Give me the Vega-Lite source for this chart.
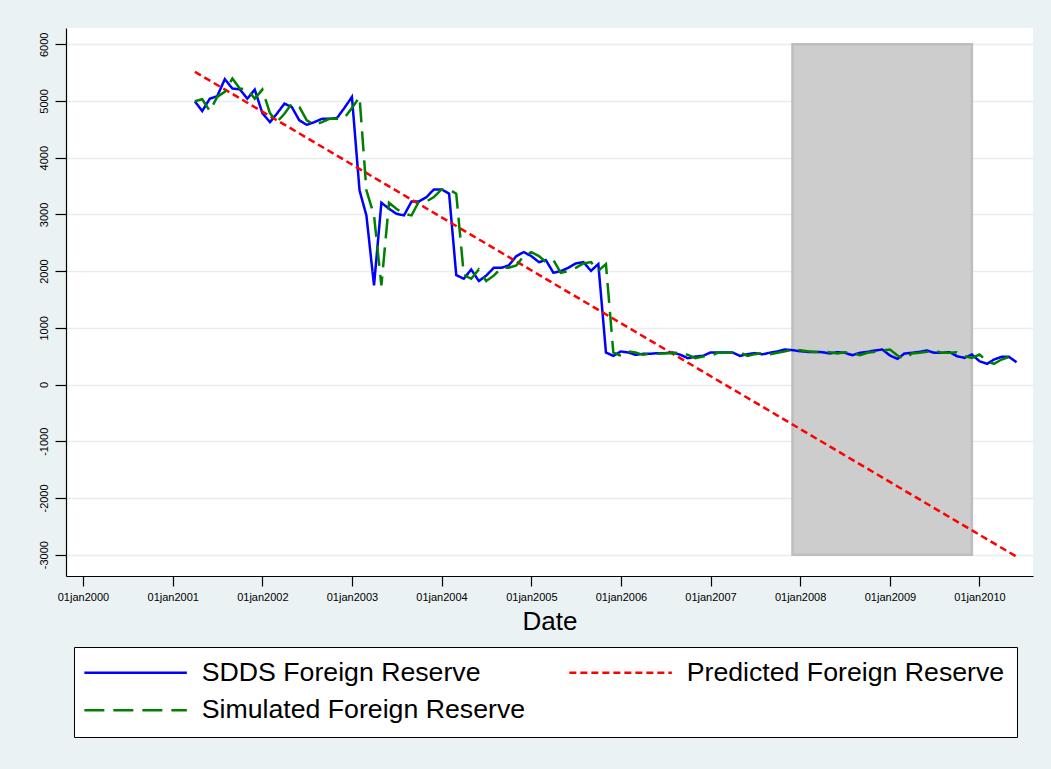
{
  "$schema": "https://vega.github.io/schema/vega-lite/v6.json",
  "width": 967,
  "height": 548,
  "autosize": {"type": "none"},
  "padding": {"left": 66, "top": 28, "right": 18, "bottom": 193},
  "background": "#EAF2F3",
  "config": {
    "view": {"fill": "white", "stroke": null},
    "font": "Liberation Sans",
    "axis": {"labelFont": "Liberation Sans", "titleFont": "Liberation Sans", "labelColor": "black", "titleColor": "black", "tickColor": "black", "domainColor": "black"},
    "legend": {
      "title": null, "orient": "none", "legendX": 8, "legendY": 619, "direction": "horizontal", "columns": 2,
      "symbolType": "M-1.5,0H8.75", "symbolSize": 400, "symbolStrokeWidth": 2.5, "symbolFillColor": "transparent",
      "labelFontSize": 26.7, "labelFont": "Liberation Sans", "labelColor": "black", "labelLimit": 1000, "labelOffset": 89,
      "columnPadding": 38, "rowPadding": 10, "padding": 12, "strokeColor": "black", "fillColor": "white"
    }
  },
  "datasets": {
    "main": [
      {"d": "2001-04-01", "s": 4994, "m": 4994},
      {"d": "2001-05-01", "s": 4822, "m": 5030},
      {"d": "2001-06-01", "s": 5041, "m": 4822},
      {"d": "2001-07-01", "s": 5083, "m": 5071},
      {"d": "2001-08-01", "s": 5385, "m": 5160},
      {"d": "2001-09-01", "s": 5219, "m": 5396},
      {"d": "2001-10-01", "s": 5207, "m": 5219},
      {"d": "2001-11-01", "s": 5041, "m": 5207},
      {"d": "2001-12-01", "s": 5201, "m": 5041},
      {"d": "2002-01-01", "s": 4787, "m": 5201},
      {"d": "2002-02-01", "s": 4627, "m": 4787},
      {"d": "2002-03-01", "s": 4775, "m": 4627},
      {"d": "2002-04-01", "s": 4953, "m": 4775},
      {"d": "2002-05-01", "s": 4893, "m": 4953},
      {"d": "2002-06-01", "s": 4657, "m": 4893},
      {"d": "2002-07-01", "s": 4580, "m": 4657},
      {"d": "2002-08-01", "s": 4627, "m": 4580},
      {"d": "2002-09-01", "s": 4686, "m": 4627},
      {"d": "2002-10-01", "s": 4686, "m": 4686},
      {"d": "2002-11-01", "s": 4698, "m": 4686},
      {"d": "2002-12-01", "s": 4876, "m": 4698},
      {"d": "2003-01-01", "s": 5071, "m": 4876},
      {"d": "2003-02-01", "s": 3424, "m": 5071},
      {"d": "2003-03-01", "s": 2982, "m": 3424},
      {"d": "2003-04-01", "s": 1747, "m": 2982},
      {"d": "2003-05-01", "s": 3206, "m": 1747},
      {"d": "2003-06-01", "s": 3100, "m": 3206},
      {"d": "2003-07-01", "s": 3012, "m": 3100},
      {"d": "2003-08-01", "s": 2982, "m": 3012},
      {"d": "2003-09-01", "s": 3229, "m": 2982},
      {"d": "2003-10-01", "s": 3229, "m": 3229},
      {"d": "2003-11-01", "s": 3306, "m": 3229},
      {"d": "2003-12-01", "s": 3441, "m": 3306},
      {"d": "2004-01-01", "s": 3441, "m": 3441},
      {"d": "2004-02-01", "s": 3365, "m": 3441},
      {"d": "2004-03-01", "s": 1930, "m": 3365},
      {"d": "2004-04-01", "s": 1865, "m": 1930},
      {"d": "2004-05-01", "s": 2029, "m": 1865},
      {"d": "2004-06-01", "s": 1825, "m": 2029},
      {"d": "2004-07-01", "s": 1920, "m": 1825},
      {"d": "2004-08-01", "s": 2059, "m": 1920},
      {"d": "2004-09-01", "s": 2059, "m": 2059},
      {"d": "2004-10-01", "s": 2100, "m": 2059},
      {"d": "2004-11-01", "s": 2265, "m": 2100},
      {"d": "2004-12-01", "s": 2335, "m": 2265},
      {"d": "2005-01-01", "s": 2265, "m": 2335},
      {"d": "2005-02-01", "s": 2159, "m": 2265},
      {"d": "2005-03-01", "s": 2194, "m": 2159},
      {"d": "2005-04-01", "s": 1971, "m": 2194},
      {"d": "2005-05-01", "s": 2000, "m": 1971},
      {"d": "2005-06-01", "s": 2059, "m": 2000},
      {"d": "2005-07-01", "s": 2135, "m": 2059},
      {"d": "2005-08-01", "s": 2159, "m": 2135},
      {"d": "2005-09-01", "s": 2005, "m": 2159},
      {"d": "2005-10-01", "s": 2125, "m": 2005},
      {"d": "2005-11-01", "s": 565, "m": 2125},
      {"d": "2005-12-01", "s": 506, "m": 565},
      {"d": "2006-01-01", "s": 583, "m": 506},
      {"d": "2006-02-01", "s": 565, "m": 583},
      {"d": "2006-03-01", "s": 524, "m": 565},
      {"d": "2006-04-01", "s": 542, "m": 524},
      {"d": "2006-05-01", "s": 542, "m": 542},
      {"d": "2006-06-01", "s": 554, "m": 542},
      {"d": "2006-07-01", "s": 554, "m": 554},
      {"d": "2006-08-01", "s": 565, "m": 554},
      {"d": "2006-09-01", "s": 524, "m": 565},
      {"d": "2006-10-01", "s": 464, "m": 524},
      {"d": "2006-11-01", "s": 494, "m": 464},
      {"d": "2006-12-01", "s": 506, "m": 494},
      {"d": "2007-01-01", "s": 565, "m": 506},
      {"d": "2007-02-01", "s": 565, "m": 565},
      {"d": "2007-03-01", "s": 565, "m": 565},
      {"d": "2007-04-01", "s": 565, "m": 565},
      {"d": "2007-05-01", "s": 506, "m": 565},
      {"d": "2007-06-01", "s": 536, "m": 506},
      {"d": "2007-07-01", "s": 554, "m": 536},
      {"d": "2007-08-01", "s": 533, "m": 554},
      {"d": "2007-09-01", "s": 562, "m": 533},
      {"d": "2007-10-01", "s": 585, "m": 562},
      {"d": "2007-11-01", "s": 618, "m": 585},
      {"d": "2007-12-01", "s": 606, "m": 618},
      {"d": "2008-01-01", "s": 588, "m": 606},
      {"d": "2008-02-01", "s": 576, "m": 588},
      {"d": "2008-03-01", "s": 576, "m": 576},
      {"d": "2008-04-01", "s": 571, "m": 576},
      {"d": "2008-05-01", "s": 547, "m": 571},
      {"d": "2008-06-01", "s": 571, "m": 547},
      {"d": "2008-07-01", "s": 559, "m": 571},
      {"d": "2008-08-01", "s": 518, "m": 559},
      {"d": "2008-09-01", "s": 559, "m": 518},
      {"d": "2008-10-01", "s": 576, "m": 559},
      {"d": "2008-11-01", "s": 600, "m": 576},
      {"d": "2008-12-01", "s": 618, "m": 600},
      {"d": "2009-01-01", "s": 512, "m": 618},
      {"d": "2009-02-01", "s": 453, "m": 512},
      {"d": "2009-03-01", "s": 547, "m": 453},
      {"d": "2009-04-01", "s": 559, "m": 547},
      {"d": "2009-05-01", "s": 576, "m": 559},
      {"d": "2009-06-01", "s": 600, "m": 576},
      {"d": "2009-07-01", "s": 559, "m": 600},
      {"d": "2009-08-01", "s": 559, "m": 559},
      {"d": "2009-09-01", "s": 571, "m": 559},
      {"d": "2009-10-01", "s": 500, "m": 571},
      {"d": "2009-11-01", "s": 471, "m": 500},
      {"d": "2009-12-01", "s": 529, "m": 471},
      {"d": "2010-01-01", "s": 412, "m": 529},
      {"d": "2010-02-01", "s": 365, "m": 412},
      {"d": "2010-03-01", "s": 441, "m": 365},
      {"d": "2010-04-01", "s": 488, "m": 441},
      {"d": "2010-05-01", "s": 488, "m": 488},
      {"d": "2010-06-01", "s": 394, "m": 488}
    ],
    "pred": [
      {"d": "2001-04-01", "p": 5515},
      {"d": "2010-06-01", "p": -3035}
    ],
    "band": [
      {"start": "2007-12-01", "end": "2009-12-01", "low": -3000, "high": 6000}
    ]
  },
  "layer": [
    {
      "data": {"name": "band"},
      "mark": {"type": "rect", "fill": "#CDCDCD", "stroke": "#BEBEBE", "strokeWidth": 2.5},
      "encoding": {
        "x": {
          "field": "start", "type": "temporal",
          "scale": {"type": "utc", "domain": [{"year": 1999, "month": 10, "date": 24, "utc": true}, {"year": 2010, "month": 8, "date": 7, "utc": true}], "nice": false},
          "axis": {
            "title": "Date", "titleFontSize": 26, "titleFontWeight": "normal", "titlePadding": 6,
            "values": [
              {"year": 2000, "month": 1, "date": 1, "utc": true},
              {"year": 2001, "month": 1, "date": 1, "utc": true},
              {"year": 2002, "month": 1, "date": 1, "utc": true},
              {"year": 2003, "month": 1, "date": 1, "utc": true},
              {"year": 2004, "month": 1, "date": 1, "utc": true},
              {"year": 2005, "month": 1, "date": 1, "utc": true},
              {"year": 2006, "month": 1, "date": 1, "utc": true},
              {"year": 2007, "month": 1, "date": 1, "utc": true},
              {"year": 2008, "month": 1, "date": 1, "utc": true},
              {"year": 2009, "month": 1, "date": 1, "utc": true},
              {"year": 2010, "month": 1, "date": 1, "utc": true}
            ],
            "labelExpr": "'01' + lower(utcFormat(datum.value, '%b')) + utcFormat(datum.value, '%Y')",
            "labelFontSize": 11, "labelPadding": 5, "tickSize": 10, "grid": false,
            "labelOverlap": false, "labelFlush": false, "domainWidth": 1.2, "tickWidth": 1.2
          }
        },
        "x2": {"field": "end"},
        "y": {
          "field": "low", "type": "quantitative",
          "scale": {"domain": [-3376, 6287], "nice": false, "zero": false},
          "axis": {
            "title": null, "values": [-3000, -2000, -1000, 0, 1000, 2000, 3000, 4000, 5000, 6000],
            "labelExpr": "'' + datum.value",
            "labelAngle": -90, "labelFontSize": 11, "labelPadding": 6, "tickSize": 11,
            "grid": true, "gridColor": "#E6EEF0", "gridWidth": 1.4,
            "domainWidth": 1.2, "tickWidth": 1.2
          }
        },
        "y2": {"field": "high"}
      }
    },
    {
      "data": {"name": "main"},
      "mark": {"type": "line", "strokeWidth": 2.5},
      "encoding": {
        "x": {"field": "d", "type": "temporal"},
        "y": {"field": "s", "type": "quantitative"},
        "color": {
          "datum": "SDDS Foreign Reserve", "type": "nominal",
          "scale": {"domain": ["SDDS Foreign Reserve", "Predicted Foreign Reserve", "Simulated Foreign Reserve"], "range": ["#0000FF", "#FF0000", "#008000"]}
        },
        "strokeDash": {
          "datum": "SDDS Foreign Reserve", "type": "nominal",
          "scale": {"domain": ["SDDS Foreign Reserve", "Predicted Foreign Reserve", "Simulated Foreign Reserve"], "range": [[1, 0], [7, 4], [20, 9]]}
        }
      }
    },
    {
      "data": {"name": "pred"},
      "mark": {"type": "line", "strokeWidth": 2.5},
      "encoding": {
        "x": {"field": "d", "type": "temporal"},
        "y": {"field": "p", "type": "quantitative"},
        "color": {"datum": "Predicted Foreign Reserve", "type": "nominal"},
        "strokeDash": {"datum": "Predicted Foreign Reserve", "type": "nominal"}
      }
    },
    {
      "data": {"name": "main"},
      "mark": {"type": "line", "strokeWidth": 2.5},
      "encoding": {
        "x": {"field": "d", "type": "temporal"},
        "y": {"field": "m", "type": "quantitative"},
        "color": {"datum": "Simulated Foreign Reserve", "type": "nominal"},
        "strokeDash": {"datum": "Simulated Foreign Reserve", "type": "nominal"}
      }
    }
  ]
}
